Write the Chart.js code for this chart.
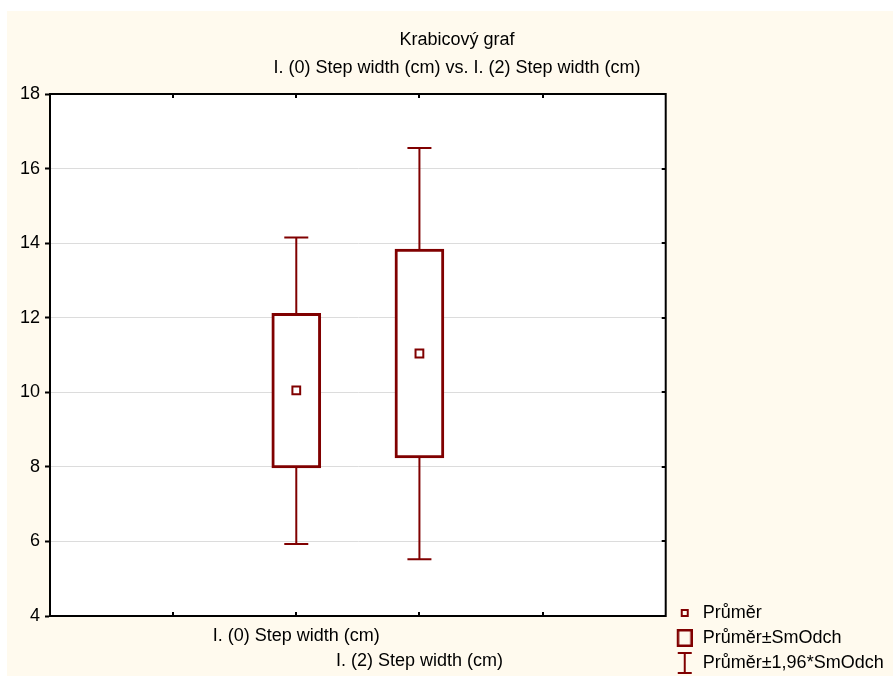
<!DOCTYPE html>
<html>
<head>
<meta charset="utf-8">
<title>Krabicový graf</title>
<script src="https://cdn.jsdelivr.net/npm/chart.js@4.4.1/dist/chart.umd.min.js"></script>
<style>
    body { margin: 0; background: #ffffff; }
    #wrap { position: relative; width: 893px; height: 677px; }
    #paper { position: absolute; left: 7px; top: 11px; right: 0; bottom: 1px; background: #fffaee; }
    #boxChart { position: absolute; left: 0; top: 0; }
</style>
</head>
<body>
<div id="wrap">
    <div id="paper"></div>
    <canvas id="boxChart" width="893" height="677"></canvas>
</div>
<script>
// --- Data ---
const categories = ["I. (0) Step width (cm)", "I. (2) Step width (cm)"];
const categoryPos = [2, 3];
const means = [10.05, 11.04];
const sdLow = [7.97, 8.24];
const sdHigh = [12.12, 13.84];
const ciLow = [5.93, 5.52];
const ciHigh = [14.15, 16.55];
const yMin = 4, yMax = 18, yStep = 2;
const xMin = 0, xMax = 5;
const legendLabels = ["Průměr", "Průměr±SmOdch", "Průměr±1,96*SmOdch"];

const RED = "#800000";
const FONT = "'Liberation Sans', Arial, sans-serif";
const FS = 18;
Chart.defaults.font.family = FONT;
Chart.defaults.font.size = FS;
Chart.defaults.color = "#000000";

// --- Series built from the arrays ---
const boxData = categoryPos.map((x, i) => ({ x: x, y: [sdLow[i], sdHigh[i]] }));
const whiskerData = [];
categoryPos.forEach((x, i) => {
    if (i > 0) whiskerData.push({ x: x - 0.5, y: null });
    whiskerData.push({ x: x, y: ciLow[i] }, { x: x, y: ciHigh[i] });
});
const capData = [];
categoryPos.forEach((x, i) => capData.push({ x: x, y: ciLow[i] }, { x: x, y: ciHigh[i] }));
const meanData = categoryPos.map((x, i) => ({ x: x, y: means[i] }));

// --- Legend icons (drawn 10px right of the canvas centre) ---
function makeIcon(w, h, draw) {
    const c = document.createElement("canvas");
    c.width = w + 10; c.height = h;
    const g = c.getContext("2d");
    g.translate(10, 0);
    g.strokeStyle = RED;
    draw(g);
    return c;
}
const iconMean = makeIcon(10, 10, g => { g.lineWidth = 2; g.strokeRect(2, 2, 6, 6); });
const iconBox = makeIcon(16, 18, g => { g.lineWidth = 2.5; g.strokeRect(1.25, 1.25, 13.5, 15.5); });
const iconWhisker = makeIcon(16, 22, g => {
    g.lineWidth = 2;
    g.beginPath();
    g.moveTo(8, 1); g.lineTo(8, 21);
    g.moveTo(1, 1); g.lineTo(15, 1);
    g.moveTo(1, 21); g.lineTo(15, 21);
    g.stroke();
});
const legendIcons = [iconMean, iconBox, iconWhisker];

// --- Layout numbers ---
const plotLeft = 50, plotRight = 667, plotTop = 94, plotBottom = 616;
const legendBox = 28;
const mctx = document.createElement("canvas").getContext("2d");
mctx.font = FS + "px " + FONT;
const legendTextW = Math.max(...legendLabels.map(t => mctx.measureText(t).width));
const legendW = legendBox + FS / 2 + legendTextW;
const padLeft = 8;
const padRight = Math.max(0, 893 - plotRight - legendW);
const titleCenterX = 457;

// --- Plugins ---
const plotBackground = {
    id: "plotBackground",
    beforeDraw(chart) {
        const { ctx, chartArea: a } = chart;
        ctx.save();
        ctx.fillStyle = "#ffffff";
        ctx.fillRect(a.left, a.top, a.right - a.left, a.bottom - a.top);
        ctx.restore();
    },
};

const titleNudge = {
    id: "titleNudge",
    afterLayout(chart) {
        chart.boxes.forEach(b => {
            if (b.options && typeof b.options.text === "string" && b.position === "top") {
                const dx = titleCenterX - (b.left + b.right) / 2;
                b.left += dx; b.right += dx;
            }
        });
    },
};

const frameTicks = {
    id: "frameTicks",
    afterDraw(chart) {
        const { ctx, chartArea: a, scales } = chart;
        ctx.save();
        ctx.strokeStyle = "#000000";
        ctx.lineWidth = 2;
        ctx.beginPath();
        // right border
        ctx.moveTo(a.right, a.top - 1); ctx.lineTo(a.right, a.bottom + 1);
        scales.x.ticks.forEach(t => {
            if (t.value <= xMin || t.value >= xMax) return;
            const px = Math.round(scales.x.getPixelForValue(t.value));
            ctx.moveTo(px, a.bottom); ctx.lineTo(px, a.bottom - 4);
            ctx.moveTo(px, a.top); ctx.lineTo(px, a.top + 4);
        });
        scales.y.ticks.forEach(t => {
            if (t.value <= yMin || t.value >= yMax) return;
            const py = Math.round(scales.y.getPixelForValue(t.value));
            ctx.moveTo(a.right, py); ctx.lineTo(a.right - 4, py);
        });
        ctx.stroke();
        ctx.restore();
    },
};

// --- Chart ---
const ctx = document.getElementById("boxChart").getContext("2d");
const boxChart = new Chart(ctx, {
    type: "bar",
    data: {
        datasets: [
            {
                type: "line",
                data: whiskerData,
                borderColor: RED,
                borderWidth: 2,
                pointRadius: 0,
                spanGaps: false,
                order: 3,
            },
            {
                type: "bar",
                data: boxData,
                backgroundColor: "#ffffff",
                borderColor: RED,
                borderWidth: 3,
                borderSkipped: false,
                barThickness: 49,
                grouped: false,
                order: 2,
            },
            {
                type: "line",
                data: capData,
                showLine: false,
                pointStyle: "line",
                pointRadius: 12,
                pointBorderWidth: 2,
                pointBorderColor: RED,
                order: 1,
            },
            {
                type: "line",
                data: meanData,
                showLine: false,
                pointStyle: "rect",
                pointRadius: 5.5,
                pointBorderWidth: 2,
                pointBorderColor: RED,
                pointBackgroundColor: "#ffffff",
                order: 0,
            },
        ],
    },
    options: {
        responsive: false,
        animation: false,
        events: [],
        layout: { padding: { left: padLeft, right: padRight, top: 0, bottom: -2 } },
        scales: {
            x: {
                type: "linear",
                min: xMin,
                max: xMax,
                offset: false,
                grid: { display: false, drawTicks: false },
                border: { color: "#000000", width: 2 },
                ticks: {
                    stepSize: 1,
                    autoSkip: false,
                    maxRotation: 0,
                    padding: 7.5,
                    font: { size: FS, lineHeight: 25 / FS },
                    callback: (v) => {
                        const i = categoryPos.indexOf(v);
                        if (i < 0) return "";
                        return i % 2 === 1 ? ["", categories[i]] : categories[i];
                    },
                },
                afterFit: (s) => { s.height = 677 + 2 - plotBottom; },
            },
            x2: {
                type: "linear",
                position: "top",
                min: xMin,
                max: xMax,
                offset: false,
                grid: { display: false, drawTicks: false },
                border: { color: "#000000", width: 2 },
                ticks: { display: false },
                afterFit: (s) => { s.height = 15.2; },
            },
            y: {
                min: yMin,
                max: yMax,
                grid: { color: "#dcdcdc", lineWidth: 1, tickColor: "#000000", tickLength: 5, tickWidth: 2 },
                border: { color: "#000000", width: 2 },
                ticks: { stepSize: yStep, padding: 5, font: { size: FS } },
                afterFit: (s) => { s.width = plotLeft - padLeft; },
            },
        },
        plugins: {
            title: {
                display: true,
                text: "Krabicový graf",
                font: { size: FS, weight: "normal" },
                color: "#000000",
                padding: { top: 29.2, bottom: 6.4 },
            },
            subtitle: {
                display: true,
                text: "I. (0) Step width (cm) vs. I. (2) Step width (cm)",
                font: { size: FS, weight: "normal" },
                color: "#000000",
                padding: { top: 0, bottom: 0 },
            },
            legend: {
                position: "right",
                align: "end",
                labels: {
                    usePointStyle: true,
                    pointStyleWidth: legendBox,
                    padding: 0,
                    font: { size: FS, lineHeight: 25 / FS },
                    color: "#000000",
                    generateLabels: () => legendLabels.map((t, i) => ({
                        text: [t],
                        pointStyle: legendIcons[i],
                        fillStyle: "#ffffff",
                        strokeStyle: RED,
                        lineWidth: 0,
                        hidden: false,
                        fontColor: "#000000",
                    })),
                },
            },
            tooltip: { enabled: false },
        },
    },
    plugins: [plotBackground, titleNudge, frameTicks],
});
</script>
</body>
</html>
